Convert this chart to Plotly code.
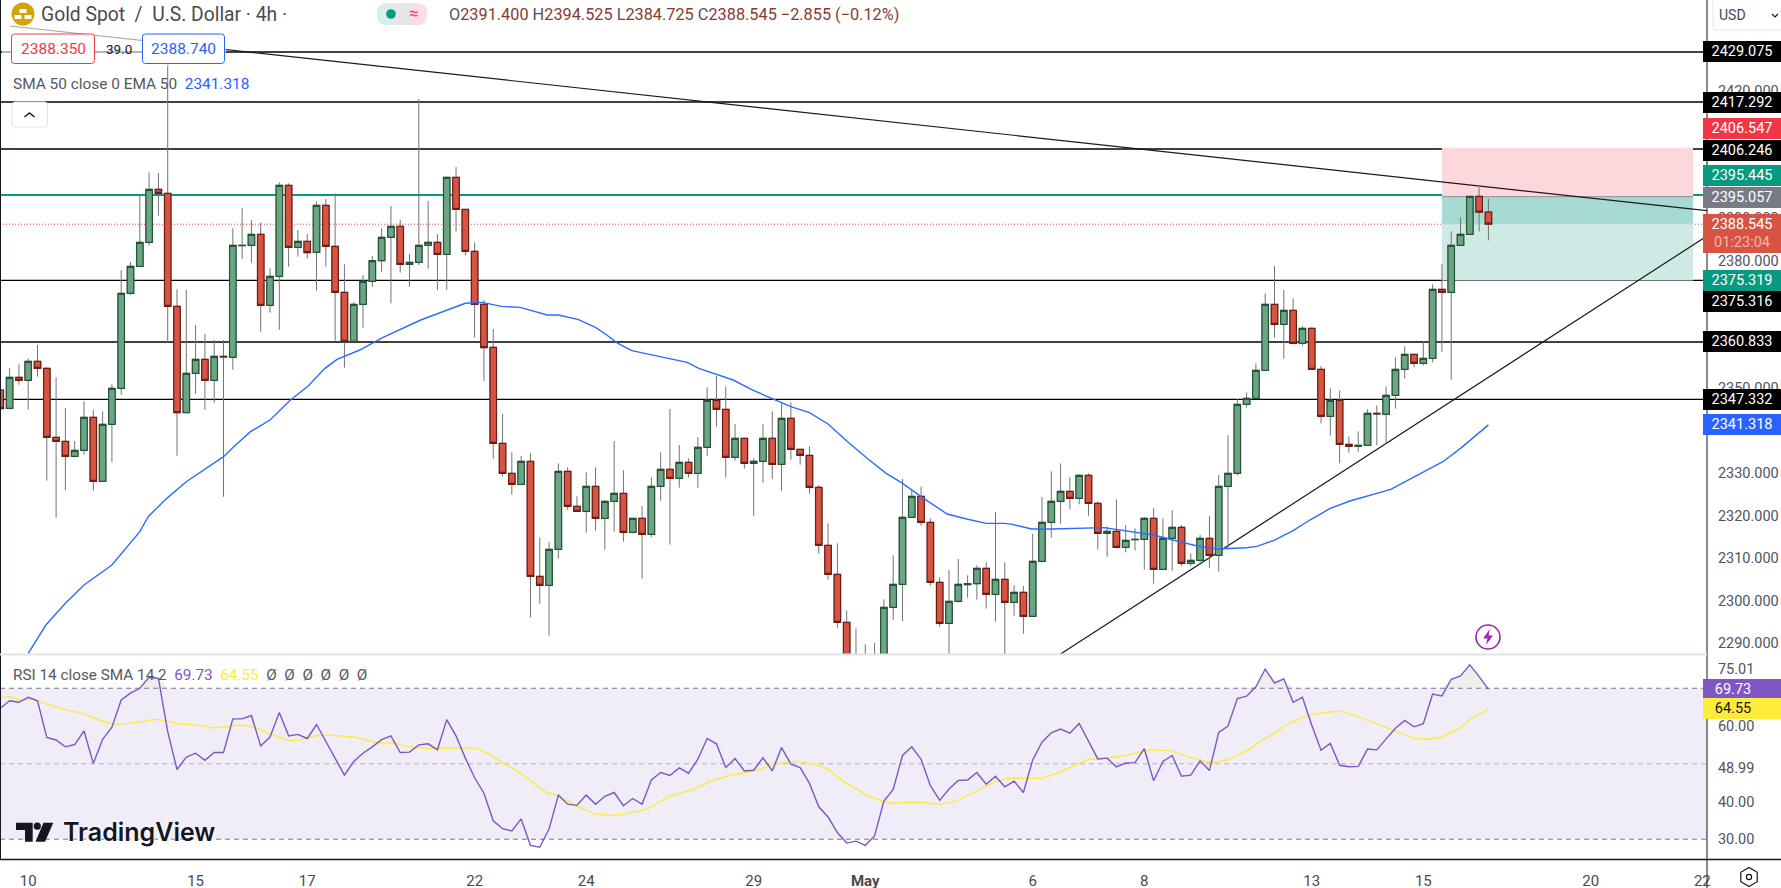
import numpy as np
import plotly.graph_objects as go

# ---------- data ----------
opens = [2349.53,2345.21,2352.51,2351.8,2356.28,2354.63,2338.39,2337.45,2333.92,2335.33,
2343.1,2328.03,2341.45,2349.92,2372.27,2378.63,2384.28,2396.75,2395.81,2369.21,
2344.19,2353.45,2356.75,2351.8,2357.45,2357.22,2383.5,2383.57,2386.16,2369.45,
2376.27,2397.69,2383.1,2384.51,2381.92,2392.98,2383.34,2372.51,2360.98,2369.68,
2375.1,2379.96,2385.45,2388.04,2379.1,2379.57,2383.57,2384.28,2381.45,2399.57,
2392.04,2382.16,2369.68,2359.57,2336.98,2329.92,2327.33,2332.74,2305.67,2303.56,
2312.03,2330.39,2322.15,2320.97,2326.86,2319.33,2323.33,2325.21,2316.03,2319.33,
2315.56,2326.86,2330.86,2328.74,2332.5,2329.92,2336.04,2347.1,2344.98,2333.68,
2338.15,2332.27,2332.74,2338.15,2332.03,2342.86,2335.56,2334.15,2326.62,2312.97,
2306.15,2294.85,2283,2278,2282,2284,2298.38,2303.79,2319.56,2324.5,
2318.38,2304.26,2294.61,2299.79,2303.7,2303.95,2307.56,2301.44,2304.97,2299.56,
2301.91,2296.26,2309.21,2318.38,2323.33,2325.68,2324.03,2329.45,2322.86,2315.79,
2316.27,2312.5,2314.3,2314.38,2319.33,2307.32,2314.62,2317.21,2308.73,2309.44,
2314.62,2310.62,2326.86,2329.91,2346.15,2347.56,2354.15,2369.68,2364.97,2368.27,
2360.5,2364.03,2354.38,2343.32,2347.09,2336.73,2336.26,2336.5,2344.03,2343.79,
2348.26,2354.38,2357.91,2355.79,2356.97,2373.21,2372.5,2383.57,2386.16,2395.1,2391.4]
highs = [2350.5,2354.63,2355.57,2356.98,2360.12,2354.86,2352.51,2345.29,2337.53,2346.86,
2344.82,2344.51,2350.86,2377.77,2379.65,2395.26,2400.75,2400.59,2430,2373.22,
2373.06,2364.83,2362.71,2361.3,2361.3,2387.57,2392.28,2389.53,2388.98,2378.16,
2398.4,2398.16,2387.18,2386.24,2393.85,2394.48,2395.81,2379.1,2370.23,2376.59,
2381.06,2387.57,2392.83,2389.53,2381.53,2418.01,2394,2386.24,2399.7,2402.01,
2392.1,2384.28,2370.71,2363.88,2343.88,2334.86,2334,2334.62,2314.85,2313.68,
2332.27,2331.33,2324.5,2330.15,2331.33,2323.56,2337.53,2330.62,2319.4,2322.23,
2328.97,2334.86,2345.06,2336.58,2333.45,2338.47,2350.16,2352.82,2350.39,2341.53,
2338.2,2333.45,2341.53,2344.51,2346.63,2346.63,2335.6,2336.27,2327.09,2318.15,
2313.44,2297.67,2293.44,2289.67,2289.98,2300.26,2310.62,2328.58,2325.99,2326.78,
2319.33,2305.44,2307.17,2309.75,2305.91,2308.26,2308.97,2320.82,2308.97,2303.56,
2303.4,2315.64,2324.35,2330.39,2332.27,2328.97,2329.68,2329.92,2323.33,2317.44,
2323.8,2317.76,2316.97,2319.64,2321.68,2319.32,2321.29,2317.76,2311.09,2315.4,
2319.87,2329.52,2338.9,2347.48,2348.97,2355.79,2372.27,2378.7,2373.05,2371.09,
2364.58,2364.27,2355.17,2349.91,2349.44,2338.61,2339.79,2344.97,2345.91,2350.38,
2357.21,2359.8,2358,2360.97,2374.39,2379.09,2386.86,2390.16,2395.2,2397.22,2394.525]
lows = [2342.31,2345.1,2350.78,2344.9,2352.67,2328.19,2319.48,2325.99,2333.68,2334.31,
2325.84,2327.9,2332.58,2348.35,2371.96,2378.55,2383.49,2390.55,2360.75,2334.07,
2344.1,2348.59,2344.9,2346.55,2324.42,2354.31,2380.35,2379.49,2363.26,2367.72,
2363.73,2378.55,2380.9,2380.43,2372.9,2378.55,2361.14,2354.78,2360.9,2364.2,
2373.84,2377.37,2369.92,2377.14,2373.84,2378.94,2378.08,2373.06,2373.06,2386.79,
2381.14,2361.85,2351.65,2333.37,2329.13,2324.9,2327.2,2295.95,2299.24,2291.71,
2309.83,2321.36,2320.9,2315.95,2316.42,2311.95,2316.19,2313.83,2315.79,2305.13,
2314.85,2323.48,2313.13,2326.54,2328.9,2326.54,2334.07,2340.9,2328.9,2332.9,
2331.01,2319.95,2327.72,2328.58,2325.84,2333.13,2331.96,2325.13,2311.01,2304.89,
2293.59,2281,2276,2275,2278,2280,2295.4,2295.16,2319.5,2317.6,
2303.48,2293.83,2285,2299.48,2300.65,2300.18,2298.07,2295.01,2285,2296.42,
2292.18,2296.2,2308.9,2314.77,2318.07,2321.44,2322.62,2319.95,2311.95,2310.3,
2312.26,2311.32,2311.72,2307.25,2303.95,2307.2,2307.01,2308.11,2308.11,2308.34,
2307.71,2306.77,2312.26,2329.44,2345.36,2347.5,2354.1,2361.84,2356.89,2360.27,
2359.95,2354.3,2341.67,2338.77,2332.26,2334.77,2335.01,2336.4,2336.5,2336.97,
2345.13,2352.19,2354.85,2355.32,2356.03,2358.54,2351.95,2383.5,2386.1,2386.86,2384.725]
closes = [2345.14,2352.51,2351.8,2356.28,2354.63,2338.39,2337.45,2333.92,2335.33,2343.1,
2328.03,2341.45,2349.92,2372.27,2378.63,2384.28,2396.75,2395.81,2369.21,2344.19,
2353.45,2356.75,2351.8,2357.45,2357.3,2383.57,2383.57,2386.16,2369.45,2376.27,
2397.69,2383.1,2384.51,2381.84,2392.98,2383.34,2372.51,2360.98,2369.68,2375.1,
2379.96,2385.45,2388.04,2379.1,2379.57,2383.57,2384.28,2381.45,2399.57,2392.04,
2382.16,2369.68,2359.49,2336.98,2329.92,2327.33,2332.74,2305.67,2303.56,2312.03,
2330.39,2322.15,2320.97,2326.86,2319.33,2323.33,2325.21,2316.03,2319.33,2315.56,
2326.86,2330.86,2328.74,2332.5,2329.92,2336.04,2347.1,2344.98,2333.68,2338.15,
2332.27,2332.74,2338.15,2332.03,2342.86,2335.56,2334.15,2326.62,2312.97,2306.15,
2294.85,2283,2278,2282,2284,2298.38,2303.79,2319.56,2324.5,2318.38,
2304.26,2294.61,2299.79,2303.79,2303.95,2307.56,2301.44,2304.97,2299.56,2301.91,
2296.26,2309.21,2318.38,2323.33,2325.68,2324.03,2329.45,2322.86,2315.79,2316.27,
2312.5,2314.15,2314.38,2319.33,2307.32,2314.62,2317.21,2308.73,2309.44,2314.62,
2310.62,2326.86,2329.91,2346.15,2347.56,2354.15,2369.68,2364.97,2368.27,2360.5,
2364.03,2354.38,2343.32,2347.09,2336.73,2336.26,2336.5,2344.03,2343.9,2348.26,
2354.38,2357.91,2355.79,2356.97,2373.21,2372.5,2383.57,2386.16,2395.1,2391.4,2388.545]

ema_x = [3,4.9,7,9,12,15,15.9,17.9,20,24,25.1,26.9,29,31.2,33.1,34.9,36.2,38.65,41.1,45.2,50,51.8,53.9,55.9,58.8,60,62.1,
64,65.2,66.4,67.9,70.6,73.85,75.1,78.8,80.85,82.9,85,87,89,91.1,93.2,95.25,96.9,99,101.8,103.9,106,108,108.8,110.9,113,118.7,120,124,
126.5,128.6,130.8,134,135.1,137,139,140.8,143,145.1,149.5,152.8,155.1,157,160]
ema_y = [2287.55,2294.22,2299.32,2303.64,2308.34,2316.19,2319.72,2324.03,2327.95,2333.84,2336.19,2339.72,2342.47,2347.17,2350.47,2354.63,2356.75,2358.94,2361.85,2366,2369.93,2370.16,2369.22,2368.98,2367.18,2367.18,2366.16,
2364.28,2362.47,2360.51,2358.79,2357.53,2356.04,2354.63,2351.88,2349.53,2347.57,2345.61,2344.19,2341.53,2337.37,2333.45,2329.92,2327.72,2324.42,2320.35,2319.17,2318.15,2318.15,2317.91,2316.81,2316.81,2317.13,2316.74,2315.4,
2313.99,2312.89,2312.11,2312.42,2312.73,2314.22,2316.42,2318.93,2321.68,2323.4,2326.14,2329.91,2332.65,2335.79,2341.32]

rsi_values = [64.7,66.7,66.3,67.6,66.7,57.0,56.3,54.5,55.1,58.7,50.1,56.5,59.7,66.9,68.7,70,72.9,72.6,58.5,48.5,
51.8,52.8,50.9,53.0,53.0,61.9,61.9,62.8,54.7,57.1,63.6,57.4,57.8,56.7,60.4,55.9,51.2,47.0,50.6,52.8,
54.5,56.4,57.4,53.0,53.1,55.0,55.3,53.7,61.7,57.4,51.5,46.3,42.2,34.9,32.8,32.2,
35.4,28.4,27.9,32.7,41.7,39.3,39,41.7,39.3,41.4,42.4,38.9,40.8,39.3,45.7,47.7,46.9,48.9,47.5,51.2,56.7,55.3,49,51.4,
48.1,48.3,51.6,48.1,54.3,49.9,49,44.8,38.6,35.9,31.8,29,29.5,28.4,30.9,40.1,43.2,52.2,54.5,51.2,44.2,40.3,43.3,45.6,45.7,47.7,44.6,46.7,43.9,45.4,
42.4,51,55.7,58.2,59.2,58.1,60.7,56,51.3,51.5,49.2,50.2,50.3,54,45.5,50.6,52.2,46.7,47,50.8,48.2,58.3,60,67.3,67.9,70.4,75.1,71.4,72.5,66.3,67.6,60.3,53.6,55.4,49.6,49.2,49.3,53.9,53.7,56.6,59.4,61.5,59.8,60.6,68.5,68,72.4,73.3,76.2,73.1,69.73]

sma_x = [0,1,2.1,3.55,5,7,8.9,10.4,12,12.9,15,16.8,17.9,19.3,21.5,22.9,24.3,25.4,26.5,27.6,28.6,31,32,34,35.5,38,39.8,41,42.1,44,45.8,48,50.1,51.2,52.65,
54.1,55.9,58.7,60,62,63.8,65.6,67,68.1,69.5,72,73.3,74.5,76.7,78.8,81,83.5,85.6,87.8,89,90.8,92.3,93.2,94.6,96,97.1,99,101,102.8,105,106.8,108.2,
109.6,112,113.6,115.9,117,119.3,120.9,123.6,125.8,127.9,130.3,131.9,134.2,136,137.1,138,139.9,141.2,143.9,146,149.8,151.9,153.4,155,157,158,160]
sma_y = [67.6,67.8,66.9,67.1,65.8,64.3,63.3,61.8,60.5,60.5,61.1,61.8,61.3,60.6,60.1,59.5,59.8,60.2,60.1,59.4,58.25,56.2,56.2,57.5,57.6,57.1,56.0,55.5,55.6,54.5,54.1,54.1,54.3,54.1,52.5,
50.1,47.6,42.4,41.5,38.8,36.8,36.3,36.6,37.2,38,41.4,42.4,43.2,45.7,47.1,48.1,50.1,50.7,49.8,48.5,45,43,41.6,40.3,39.5,39.8,39.8,39.3,40.1,42.8,45.1,46.2,
46.2,46.15,47.5,50.1,51.2,51.6,52.2,53.7,53.5,51.7,50.2,51,53.7,56.8,58.1,60,62.1,63.2,64,62.5,58.7,56.8,56.5,57.1,59.6,61.7,64.55]

level_prices = [2429.075,2417.292,2406.246,2375.316,2360.833,2347.332]
green_level = 2395.445
position_entry = 2395.057
position_stop = 2406.547
position_target = 2375.319
last_price = 2388.545
ema_last = 2341.318
falling_line_x = [1,183.5]
falling_line_y = [2435.19,2391.72]
rising_line_x = [114,183.5]
rising_line_y = [2287.4,2385.77]
position_x = [155,182]
price_ticks = [2290,2300,2310,2320,2330,2350,2380,2390,2420]
rsi_ticks = [30,40,48.99,60,75.01]
rsi_levels = [30,50,70]
time_ticks = [3,21,33,51,63,81,93,111,123,141,153,171,183]
time_labels = ["10","15","17","22","24","29","<b>May</b>","6","8","13","15","20","22"]

# ---------- layout helpers ----------
W, H = 1781, 888
AX = 1707
FONT = "Roboto"
UP, DOWN = "#6BA583", "#D75442"
UP_B, DOWN_B = "#225437", "#6B1E14"
WICK = "#737375"
def px(x): return x / W
def py(y): return 1 - y / H
x_idx = np.arange(len(opens))
o, h, l, c = map(np.array, (opens, highs, lows, closes))

fig = go.Figure()
# wicks (grey), then bodies with their own darker outline
fig.add_trace(go.Candlestick(x=x_idx, open=o, high=h, low=l, close=c, xaxis="x", yaxis="y", whiskerwidth=0,
    increasing=dict(line=dict(color=WICK, width=1), fillcolor=UP),
    decreasing=dict(line=dict(color=WICK, width=1), fillcolor=DOWN), showlegend=False, hoverinfo="skip"))
fig.add_trace(go.Candlestick(x=x_idx, open=o, high=np.maximum(o, c), low=np.minimum(o, c), close=c, xaxis="x", yaxis="y", whiskerwidth=0,
    increasing=dict(line=dict(color=UP_B, width=1.2), fillcolor=UP),
    decreasing=dict(line=dict(color=DOWN_B, width=1.2), fillcolor=DOWN), showlegend=False, hoverinfo="skip"))
fig.add_trace(go.Scatter(x=ema_x, y=ema_y, mode="lines", line=dict(color="#2F6BFF", width=1.4), xaxis="x", yaxis="y", showlegend=False, hoverinfo="skip"))

# RSI pane
rsi = np.array(rsi_values)
fig.add_trace(go.Scatter(x=x_idx, y=np.full(len(rsi), 70.0), mode="lines", line=dict(width=0), xaxis="x2", yaxis="y2", showlegend=False, hoverinfo="skip"))
fig.add_trace(go.Scatter(x=x_idx, y=np.maximum(rsi, 70), mode="lines", line=dict(width=0), fill="tonexty", fillcolor="rgba(120,120,120,0.13)", xaxis="x2", yaxis="y2", showlegend=False, hoverinfo="skip"))
fig.add_trace(go.Scatter(x=sma_x, y=sma_y, mode="lines", line=dict(color="#FFEB3B", width=1.4), xaxis="x2", yaxis="y2", showlegend=False, hoverinfo="skip"))
fig.add_trace(go.Scatter(x=x_idx, y=rsi, mode="lines", line=dict(color="#7E57C2", width=1.4), xaxis="x2", yaxis="y2", showlegend=False, hoverinfo="skip"))

shapes = []
# position box
shapes += [
    dict(type="rect", xref="x", yref="y", x0=position_x[0], x1=position_x[1], y0=position_entry, y1=position_stop, fillcolor="#FCD7DB", line_width=0, layer="below"),
    dict(type="rect", xref="x", yref="y", x0=position_x[0], x1=position_x[1], y0=position_target, y1=position_entry, fillcolor="#CFEAE5", line_width=0, layer="below"),
    dict(type="rect", xref="x", yref="y", x0=position_x[0], x1=position_x[1], y0=last_price, y1=position_entry, fillcolor="#A6DAD2", line_width=0, layer="below"),
    dict(type="line", xref="x", yref="y", x0=position_x[0], x1=position_x[1], y0=position_entry, y1=position_entry, line=dict(color="#9A9BA3", width=1.3), layer="below"),
]
for p in level_prices:
    shapes.append(dict(type="line", xref="x domain", yref="y", x0=0, x1=1, y0=p, y1=p, line=dict(color="#000000", width=1.4), layer="below"))
shapes.append(dict(type="line", xref="x domain", yref="y", x0=0, x1=1, y0=green_level, y1=green_level, line=dict(color="#089981", width=2), layer="below"))
shapes.append(dict(type="line", xref="x domain", yref="y", x0=0, x1=1, y0=last_price, y1=last_price, line=dict(color="#F23645", width=1, dash="1px,2px"), layer="below"))
shapes.append(dict(type="line", xref="x", yref="y", x0=falling_line_x[0], x1=falling_line_x[1], y0=falling_line_y[0], y1=falling_line_y[1], line=dict(color="#1a1a1a", width=1.2), layer="below"))
shapes.append(dict(type="line", xref="x", yref="y", x0=rising_line_x[0], x1=rising_line_x[1], y0=rising_line_y[0], y1=rising_line_y[1], line=dict(color="#1a1a1a", width=1.2), layer="below"))
# RSI band and levels
shapes.append(dict(type="rect", xref="x2 domain", yref="y2", x0=0, x1=1, y0=30, y1=70, fillcolor="#F0ECF8", line_width=0, layer="below"))
for lv in rsi_levels:
    col = "#B2B5BE" if lv == 50 else "#787B86"
    shapes.append(dict(type="line", xref="x2 domain", yref="y2", x0=0, x1=1, y0=lv, y1=lv, line=dict(color=col, width=1.1, dash="5px,4px"), layer="below"))

def pline(x0, y0, x1, y1, color, width=1):
    return dict(type="line", xref="paper", yref="paper", x0=px(x0), x1=px(x1), y0=py(y0), y1=py(y1), line=dict(color=color, width=width))
def pcirc(x, y, r, fill, line=None, lw=0):
    return dict(type="circle", xref="paper", yref="paper", x0=px(x-r), x1=px(x+r), y0=py(y+r), y1=py(y-r), fillcolor=fill, line=dict(color=line or fill, width=lw))
def ppath(pts, fill=None, line=None, lw=0, close=True):
    d = "M " + " L ".join(f"{px(a):.5f},{py(b):.5f}" for a, b in pts) + (" Z" if close else "")
    return dict(type="path", xref="paper", yref="paper", path=d, fillcolor=fill or "rgba(0,0,0,0)", line=dict(color=line or "rgba(0,0,0,0)", width=lw))
def rrect(x0, y0, x1, y1, r, fill, line, lw=1):
    P = lambda a, b: f"{px(a):.5f},{py(b):.5f}"
    d = (f"M {P(x0+r,y0)} L {P(x1-r,y0)} Q {P(x1,y0)} {P(x1,y0+r)} L {P(x1,y1-r)} Q {P(x1,y1)} {P(x1-r,y1)} "
         f"L {P(x0+r,y1)} Q {P(x0,y1)} {P(x0,y1-r)} L {P(x0,y0+r)} Q {P(x0,y0)} {P(x0+r,y0)} Z")
    return dict(type="path", xref="paper", yref="paper", path=d, fillcolor=fill, line=dict(color=line, width=lw))

# frame
shapes += [pline(0.5, 0, 0.5, 859, "#131722", 1), pline(AX, 0, AX, H, "#131722", 1), pline(0, 859.5, W, 859.5, "#131722", 1.4), pline(0, 654.5, AX, 654.5, "#E0E3EB", 2)]
# semi-opaque panel behind order buttons
shapes.append(dict(type="rect", xref="paper", yref="paper", x0=px(2), x1=px(226), y0=py(66), y1=py(22), fillcolor="rgba(255,255,255,0.62)", line_width=0))
shapes += [rrect(11.5, 34, 94.5, 63.5, 3, "#FFFFFF", "#F23645", 1), rrect(142.5, 34, 224.5, 63.5, 3, "#FFFFFF", "#2962FF", 1)]
# collapse button
shapes += [rrect(12, 102, 47.5, 127, 3, "#FFFFFF", "#E0E3EB", 1), ppath([(24.5, 117), (29.5, 113), (34.5, 117)], line="#131722", lw=1.5, close=False)]
# coin logo
shapes.append(pcirc(23, 14, 11.5, "#D4A20B"))
shapes += [dict(type="rect", xref="paper", yref="paper", x0=px(a), x1=px(a+b), y0=py(yy+4), y1=py(yy), fillcolor="#FFFFFF", line_width=0)
           for a, b, yy in [(19.5, 7, 9), (14.5, 7, 15), (24.5, 7, 15)]]
# market status pill
shapes += [rrect(377, 3, 403, 25, 10, "#D5EFEA", "#D5EFEA", 0), rrect(401, 3, 427, 25, 10, "#FCDDE2", "#FCDDE2", 0),
           dict(type="rect", xref="paper", yref="paper", x0=px(392), x1=px(412), y0=py(25), y1=py(3), fillcolor="#E8E6E6", line_width=0),
           pcirc(391, 14, 4.8, "#089981")]
# USD box
shapes.append(rrect(1713, -4, 1790, 30, 5, "#FFFFFF", "#E0E3EB", 1))
shapes.append(ppath([(1772, 14), (1775, 17), (1778, 14)], line="#131722", lw=1.2, close=False))
# TradingView logo mark
shapes += [ppath([(16, 822.7), (32.7, 822.7), (32.7, 841.7), (25, 841.7), (25, 830), (16, 830)], fill="#131722"),
           pcirc(37.3, 826.2, 3.6, "#131722"),
           ppath([(43.5, 822.7), (53.3, 822.7), (45, 841.7), (35.5, 841.7)], fill="#131722")]
# flash icon
shapes += [pcirc(1488, 637, 12, "#FFFFFF", "#9C27B0", 1.6),
           ppath([(1490, 629), (1483, 638.5), (1487.5, 638.5), (1486, 645), (1493, 635.5), (1488.5, 635.5)], fill="#9C27B0")]
# settings icon
hexr = 9.5
shapes += [ppath([(1749 + hexr*np.sin(a), 877 + hexr*np.cos(a)) for a in np.radians(np.arange(0, 360, 60))], line="#131722", lw=1.2),
           pcirc(1749, 877, 2.6, "#FFFFFF", "#131722", 1.2)]

anns = []
def text(t, x, y, size=15, color="#131722", anchor="left", family=FONT, **kw):
    fontkw = kw.pop("fontkw", {})
    anns.append(dict(text=t, xref="paper", yref="paper", x=px(x), y=py(y), xanchor=anchor, yanchor="middle", showarrow=False,
                     font=dict(family=family, size=size, color=color, **fontkw), **kw))
def tag(t, value, color, shift=0, height=21, fc="#FFFFFF", yref="y"):
    anns.append(dict(text=t, xref="paper", yref=yref, x=1, y=value, xanchor="right", yanchor="middle", yshift=shift, showarrow=False,
                     width=78, height=height, bgcolor=color, borderpad=0, borderwidth=0, align="center", font=dict(family=FONT, size=14.5, color=fc)))

text("Gold Spot &nbsp;/&nbsp; U.S. Dollar · 4h ·", 39, 15, size=19.3, color="#4A4A4F")
text("≈", 414, 13, size=17, color="#F23B6F", anchor="center")
dn = "#8A3A30"; gr = "#50535E"
vals = [("O", "2391.400"), ("H", "2394.525"), ("L", "2384.725"), ("C", "2388.545")]
ohlc = " ".join(f"<span style='color:{gr}'>{a}</span><span style='color:{dn}'>{b}</span>" for a, b in vals)
text(ohlc + f" <span style='color:{dn}'>−2.855 (−0.12%)</span>", 447, 15, size=16.3)
text("2388.350", 53, 49, size=15.5, color="#F23645", anchor="center")
text("39.0", 118.5, 49, size=13.5, color="#131722", anchor="center")
text("2388.740", 183.5, 49, size=15.5, color="#2962FF", anchor="center")
text("SMA 50 close 0 EMA 50 <span style='color:#2962FF'>&nbsp;2341.318</span>", 11, 84.5, size=15.4, color="#555860")
text("RSI 14 close SMA 14 2 &nbsp;<span style='color:#7E57C2'>69.73</span> &nbsp;<span style='color:#FFEB3B'>64.55</span> &nbsp;Ø &nbsp;Ø &nbsp;Ø &nbsp;Ø &nbsp;Ø &nbsp;Ø", 11, 675, size=15.3, color="#555860")
text("USD", 1717, 15, size=14, color="#3D4A66")
text("TradingView", 61, 832, size=25, color="#131722", family="Inter", fontkw=dict(weight=600, shadow="0 0 3px #fff, 0 0 3px #fff"))

tag("2429.075", level_prices[0], "#000000")
tag("2417.292", level_prices[1], "#000000")
tag("2406.547", position_stop, "#F23645", shift=19.7)
tag("2406.246", level_prices[2], "#000000", shift=-1)
tag("2395.445", green_level, "#089981", shift=19)
tag("2395.057", position_entry, "#787B86", shift=-1)
tag("2388.545<br><span style='color:#F7B6AC'>01:23:04</span>", last_price, "#D75442", shift=-9, height=39)
tag("2375.319", position_target, "#089981")
tag("2375.316", level_prices[3], "#000000", shift=-21)
tag("2360.833", level_prices[4], "#000000")
tag("2347.332", level_prices[5], "#000000")
tag("2341.318", ema_last, "#2962FF")
tag("69.73&nbsp;&nbsp;&nbsp;&nbsp;&nbsp;", rsi_values[-1], "#7E57C2", yref="y2")
tag("64.55&nbsp;&nbsp;&nbsp;&nbsp;&nbsp;", sma_y[-1], "#FFEB3B", fc="#131722", yref="y2")

x_range = [-0.032, 183.5]
fig.update_layout(
    width=round(W * 1.002), height=round(H * 1.002), margin=dict(l=0, r=0, t=0, b=0), paper_bgcolor="#FFFFFF", plot_bgcolor="#FFFFFF",
    boxgap=0.3, boxgroupgap=0, showlegend=False, font=dict(family=FONT, size=15, color="#50535E"),
    shapes=shapes, annotations=anns,
    xaxis=dict(domain=[0, AX / W], range=x_range, anchor="y", showticklabels=False, showgrid=False, zeroline=False, rangeslider=dict(visible=False), ticks=""),
    xaxis2=dict(domain=[0, AX / W], range=x_range, anchor="y2", tickmode="array", tickvals=time_ticks, ticktext=time_labels, showgrid=False, zeroline=False,
                ticks="outside", ticklen=8, tickcolor="rgba(0,0,0,0)", tickfont=dict(family=FONT, size=15, color="#4A4A4F")),
    yaxis=dict(domain=[1 - 654 / H, 1], range=[2287.4, 2441.31], side="right", anchor="x", tickmode="array", tickvals=price_ticks, tickformat=".3f", showgrid=False, zeroline=False,
               ticks="outside", ticklen=7, tickcolor="rgba(0,0,0,0)", tickfont=dict(family=FONT, size=14.5, color="#50535E")),
    yaxis2=dict(domain=[1 - 859.3 / H, 1 - 655 / H], range=[24.70, 78.82], side="right", anchor="x2", tickmode="array", tickvals=rsi_ticks, tickformat=".2f", showgrid=False, zeroline=False,
                ticks="outside", ticklen=7, tickcolor="rgba(0,0,0,0)", tickfont=dict(family=FONT, size=14.5, color="#50535E")),
)
fig.write_html("out.html", config=dict(displayModeBar=False), post_script="document.body.style.margin='0';document.documentElement.style.overflow='hidden';")
